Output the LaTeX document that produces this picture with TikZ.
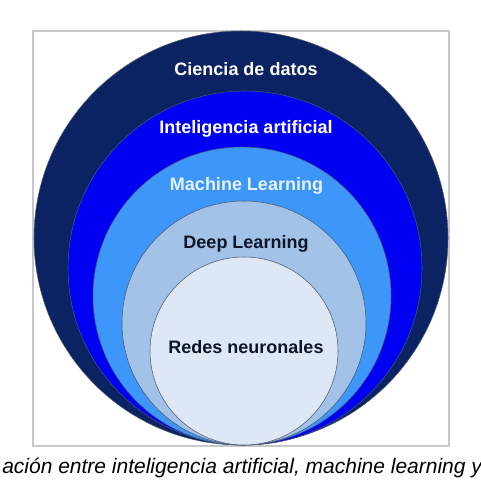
\documentclass[tikz,border=0pt]{standalone}
\usepackage{fontspec}
\setmainfont{Liberation Sans}
\usepackage{xcolor}
\usepackage{tikz}
\usetikzlibrary{positioning}
\definecolor{azulnoche}{HTML}{0B2263}
\definecolor{azulrey}{HTML}{0000F2}
\definecolor{azulcielo}{HTML}{3D96FA}
\definecolor{azulgris}{HTML}{A3C2E8}
\definecolor{azulhielo}{HTML}{DDE7F5}
\definecolor{borde}{HTML}{4A5870}
\definecolor{marcogris}{HTML}{C8C8C8}
\definecolor{textoclaro}{HTML}{E6F2FF}
\definecolor{textooscuro}{HTML}{0E1626}
\tikzset{
  circulo/.style={circle,draw=borde,line width=0.4pt,inner sep=0pt},
  etiqueta/.style={font=\bfseries\fontsize{13.5}{16}\selectfont,text=white,anchor=base,inner sep=0pt},
  etiquetaosc/.style={etiqueta,text=textooscuro},
  marco/.style={draw=marcogris,line width=1pt},
  pie/.style={font=\itshape\fontsize{15.75}{19}\selectfont,anchor=base west,inner sep=0pt},
}
\begin{document}
\begin{tikzpicture}[x=0.75pt,y=-0.75pt]
  \useasboundingbox (0,0) rectangle (480,484);
  \fill[white] (0,0) rectangle (480,484);
  \draw[marco] (33,31) rectangle (449,446);
  % circulos anidados, todos tocan abajo
  \node[circulo,fill=azulnoche,minimum size=310.5pt] (cd) at (241,238) {};
  \node[circulo,fill=azulrey,minimum size=265.5pt] (ia) at (245,268) {};
  \node[circulo,fill=azulcielo,minimum size=223.5pt] (ml) at (242,296) {};
  \node[circulo,fill=azulgris,minimum size=183pt] (dl) at (244,323) {};
  \node[circulo,fill=azulhielo,minimum size=141pt] (rn) at (244,351) {};
  \node[etiqueta] (tcd) at (246,76) {Ciencia de datos};
  \node[etiqueta] (tia) at (246,133.5) {Inteligencia artificial};
  \node[etiqueta,text=textoclaro] (tml) at (246.5,191) {Machine Learning};
  \node[etiquetaosc] (tdl) at (246,248) {Deep Learning};
  \node[etiquetaosc] (trn) at (246,353.5) {Redes neuronales};
  \node[pie] (pie) at (2,473) {ación entre inteligencia artificial, machine learning y};
\end{tikzpicture}
\end{document}
